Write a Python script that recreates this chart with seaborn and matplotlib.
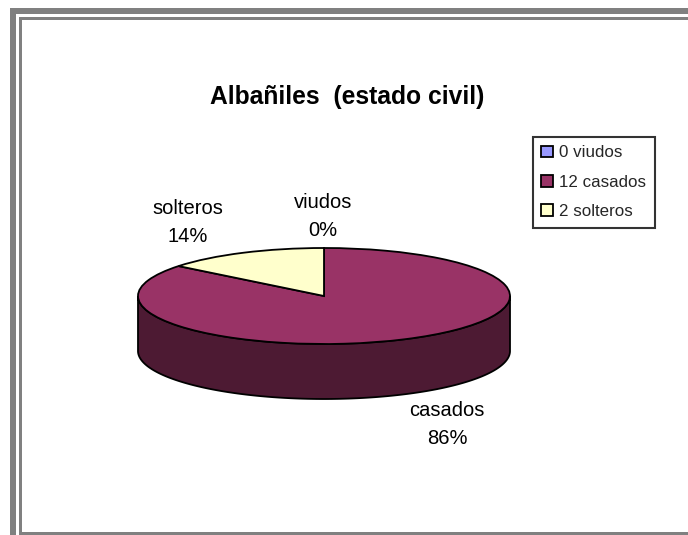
import numpy as np
import seaborn as sns
import matplotlib
matplotlib.use("Agg")
import matplotlib.pyplot as plt
from matplotlib.patches import Rectangle, Polygon

# Datos del gráfico
categorias = ["viudos", "casados", "solteros"]
cantidades = [0, 12, 2]
colores = ["#9999FF", "#993366", "#FFFFCC"]
titulo = "Albañiles  (estado civil)"

sns.set_theme(style="white")
plt.rcParams["font.family"] = ["Liberation Sans", "DejaVu Sans"]

W, H = 688, 535
fig = plt.figure(figsize=(W / 100, H / 100), dpi=100)
fig.patch.set_facecolor("white")


def fx(px):
    return px / W


def fy(py):
    return 1 - py / H


# Marco gris (doble línea)
gris = "#808080"
for (x0, y0, x1, y1) in [(10, 8, 16, H), (10, 8, W, 14),
                         (19, 17, 22, H), (19, 17, W, 20), (19, 532, W, H)]:
    fig.patches.append(Rectangle((fx(x0), fy(y1)), fx(x1) - fx(x0), fy(y0) - fy(y1),
                                 transform=fig.transFigure, facecolor=gris,
                                 edgecolor="none", zorder=0))

ax = fig.add_axes([0, 0, 1, 1])
ax.axis("off")

# Tarta "3D": elipse con centro (324, 296), semiejes 186 x 48 px, grosor 55 px
cx, cy, a, b, prof = 324, 296, 186, 48, 55
wedges, _ = ax.pie(cantidades, colors=colores, startangle=90, counterclock=False,
                   wedgeprops=dict(edgecolor="black", linewidth=1.3))
for w in wedges:
    w.set_zorder(3)
ax.set_aspect("auto")
ax.set_xlim(-cx / a, (W - cx) / a)
ax.set_ylim(-(H - cy) / b, cy / b)
d = prof / b

# Lateral del cilindro (solo la mitad frontal)
for w, col in zip(wedges, colores):
    t1, t2 = sorted((w.theta1, w.theta2))
    if t2 - t1 <= 0:
        continue
    for k in range(-2, 2):
        lo = max(t1, 180 + 360 * k)
        hi = min(t2, 360 + 360 * k)
        if hi <= lo:
            continue
        t = np.radians(np.linspace(lo, hi, 200))
        arriba = np.column_stack([np.cos(t), np.sin(t)])
        abajo = np.column_stack([np.cos(t[::-1]), np.sin(t[::-1]) - d])
        oscuro = tuple(c * 0.5 for c in matplotlib.colors.to_rgb(col))
        ax.add_patch(Polygon(np.vstack([arriba, abajo]), closed=True,
                             facecolor=oscuro, edgecolor="black",
                             linewidth=1.3, zorder=2))

# Etiquetas de datos
total = sum(cantidades)
pos_etiquetas = {"viudos": (323, 217), "casados": (447, 425), "solteros": (188, 223)}
for nombre, n in zip(categorias, cantidades):
    x, y = pos_etiquetas[nombre]
    fig.text(fx(x), fy(y), f"{nombre}\n{100 * n / total:.0f}%", ha="center",
             va="center", fontsize=14.5, color="black", linespacing=1.6)

fig.text(fx(347), fy(97), titulo, ha="center", va="center",
         fontsize=17.7, fontweight="bold", color="black")

leg = ax.legend(wedges, [f"{n} {c}" for c, n in zip(categorias, cantidades)],
                loc="upper left", bbox_to_anchor=(fx(533), fy(137)),
                bbox_transform=fig.transFigure, borderaxespad=0, fontsize=12.2,
                frameon=True, fancybox=False, handlelength=0.7, handleheight=0.7,
                handletextpad=0.35, labelspacing=0.85, borderpad=0.5)
leg.get_frame().set_edgecolor("black")
leg.get_frame().set_linewidth(1.5)

fig.savefig("out.png", dpi=100, facecolor="white")
plt.close(fig)
